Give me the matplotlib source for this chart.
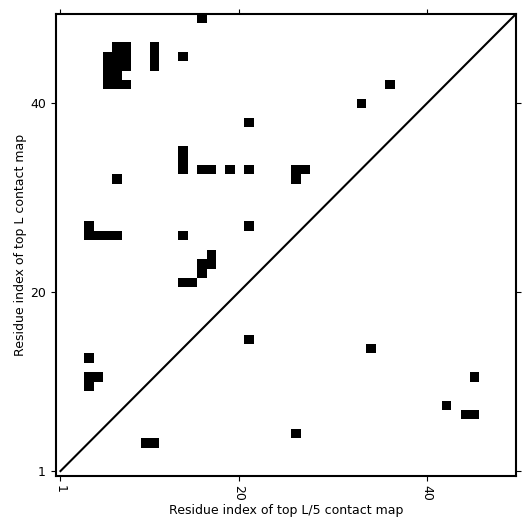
import numpy as np
import matplotlib
matplotlib.use('Agg')
import matplotlib.pyplot as plt

L = 49

# top L contacts (i < j), drawn above the diagonal
top_L_i = [16, 7, 8, 6, 7, 8, 6, 7, 8, 6, 7, 6, 7, 8,
           11, 11, 11, 14, 14, 14, 14, 16, 17, 19, 21, 21,
           26, 27, 26, 36, 33, 7, 4, 4, 5, 6, 7, 14,
           14, 15, 16, 16, 17, 17, 21, 4, 4, 5, 4]
top_L_j = [49, 46, 46, 45, 45, 45, 44, 44, 44, 43, 43, 42, 42, 42,
           44, 45, 46, 45, 33, 34, 35, 33, 33, 33, 33, 38,
           33, 33, 32, 42, 40, 32, 27, 26, 26, 26, 26, 26,
           21, 21, 22, 23, 23, 24, 27, 13, 11, 11, 10]

# top L/5 contacts (i < j), drawn below the diagonal
top_L5_i = [4, 4, 5, 15, 14, 11, 8, 7, 7]
top_L5_j = [10, 11, 26, 21, 34, 45, 42, 44, 45]

cmap = np.zeros((L, L))
for i, j in zip(top_L_i, top_L_j):
    cmap[j - 1, i - 1] = 1
for i, j in zip(top_L5_i, top_L5_j):
    cmap[i - 1, j - 1] = 1

fig = plt.figure(figsize=(5.31, 5.31), dpi=100)
ax = fig.add_axes([0.105, 0.104, 0.867, 0.87])
ax.imshow(cmap, cmap='binary', origin='lower', interpolation='nearest',
          extent=(0.5, L + 0.5, 0.5, L + 0.5), aspect='auto')
ax.plot([1, L + 1], [1, L + 1], color='black', lw=1.5)
ax.set_xlim(0.5, L + 0.5)
ax.set_ylim(0.5, L + 0.5)

ax.set_xticks([1, 20, 40])
ax.set_yticks([1, 20, 40])
ax.tick_params(top=True, right=True, labelsize=9)
plt.setp(ax.get_xticklabels(), rotation=270)
for s in ax.spines.values():
    s.set_linewidth(1.5)

ax.set_xlabel('Residue index of top L/5 contact map', fontsize=9, labelpad=2)
ax.set_ylabel('Residue index of top L contact map', fontsize=9, labelpad=2)

fig.savefig('out.png', dpi=100)
